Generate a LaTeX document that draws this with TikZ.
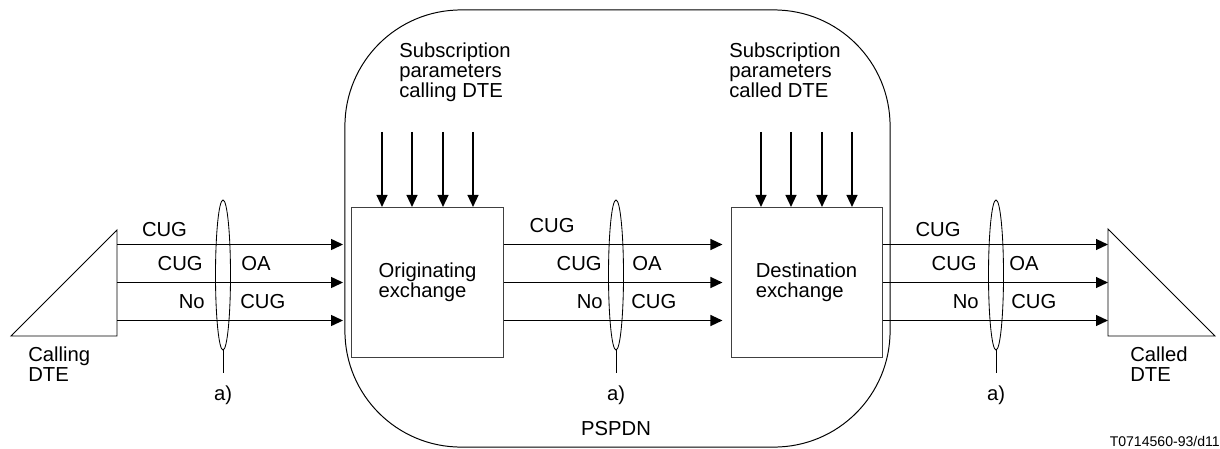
\documentclass[tikz,border=0pt]{standalone}
\usepackage{fontspec}
\setmainfont{Liberation Sans}
\usetikzlibrary{shapes.geometric}
\usetikzlibrary{calc}
\usetikzlibrary{arrows.meta}

\begin{document}
\begin{tikzpicture}[x=0.025cm, y=-0.025cm, font=\fontsize{14.4pt}{14.2pt}\selectfont]
        % Define styles for shapes
        \tikzstyle{exchange} = [draw=black!75, line width=0.7pt, minimum width=3.775cm, minimum height=3.75cm, align=left, inner sep=0pt]
        \tikzstyle{sig} = [line width=1.3pt, -{Triangle[length=0.3cm, width=0.27cm]}]
        \tikzstyle{lens} = [draw, ellipse, line width=0.6pt, minimum width=0.375cm, minimum height=3.75cm, inner sep=0pt]
        \tikzstyle{txt} = [inner sep=0pt]
        \useasboundingbox (0,0) rectangle (1220,448);

        % Network boundary
        \node[draw, line width=0.7pt, rounded corners=2.9cm, minimum width=13.625cm, minimum height=10.925cm, inner sep=0pt] (pspdn) at (617.5,228.5) {};
        \node[txt] (pspdnlabel) at (616,429) {PSPDN};

        % Exchanges
        \node[exchange] (orig) at (427.5,282.5) {Originating\\exchange};
        \node[exchange] (dest) at (806.5,282.5) {Destination\\exchange};

        % Subscription parameters
        \node[txt, align=left, anchor=north west] (subcalling) at (399,43) {Subscription\\parameters\\calling DTE};
        \node[txt, align=left, anchor=north west] (subcalled) at (729,43) {Subscription\\parameters\\called DTE};
        \foreach \dx in {-45.5,-15.5,15.5,45.5} {
            \draw[sig] ($(orig.north)+(\dx,-75)$) -- ($(orig.north)+(\dx,0)$);
            \draw[sig] ($(dest.north)+(\dx,-75)$) -- ($(dest.north)+(\dx,0)$);
        }

        % DTEs
        \coordinate (callingtop) at (117,230);
        \coordinate (callingbot) at (117,336);
        \draw[line width=0.6pt] (callingtop) -- (callingbot) -- (11,336) -- cycle;
        \node[txt, align=left, anchor=west] (callingdte) at (28,364) {Calling\\DTE};
        \coordinate (calledtop) at (1108,229);
        \coordinate (calledbot) at (1108,336);
        \draw[line width=0.6pt] (calledtop) -- (calledbot) -- (1215,336) -- cycle;
        \node[txt, align=left, anchor=west] (calleddte) at (1130,364) {Called\\DTE};

        % Draw arrows
        \foreach \dy in {-38,0,38} {
            \coordinate (lin) at ($(orig.west)+(0,\dy)$);
            \coordinate (rin) at ($(dest.west)+(0,\dy)$);
            \coordinate (rout) at ($(dest.east)+(0,\dy)$);
            \draw[sig, shorten >=0.21cm] (callingtop |- lin) -- (lin);
            \draw[sig, shorten >=0.2cm] (orig.east |- rin) -- (rin);
            \draw[sig] (rout) -- (calledtop |- rout);
        }

        % Ellipses round the lines
        \foreach \name/\x in {e1/223, e2/616, e3/996} {
            \node[lens] (\name) at (\x,275) {};
            \draw[line width=0.6pt] (\name.south) -- ++(0,23);
            \node[txt] (\name note) at (\x,395) {a)};
        }

        % Labels between the lines
        \node[txt] (l1) at (164.5,230) {CUG};
        \node[txt, anchor=east] (l2) at (203,264) {CUG};
        \node[txt, anchor=west] (l3) at (241,264) {OA};
        \node[txt, anchor=east] (l4) at (205,302) {No};
        \node[txt, anchor=west] (l5) at (240,302) {CUG};

        \node[txt] (m1) at (552,226) {CUG};
        \node[txt, anchor=east] (m2) at (602,264) {CUG};
        \node[txt, anchor=west] (m3) at (632,264) {OA};
        \node[txt, anchor=east] (m4) at (603,302) {No};
        \node[txt, anchor=west] (m5) at (631,302) {CUG};

        \node[txt] (r1) at (938,230) {CUG};
        \node[txt, anchor=east] (r2) at (977,264) {CUG};
        \node[txt, anchor=west] (r3) at (1009,264) {OA};
        \node[txt, anchor=east] (r4) at (979,302) {No};
        \node[txt, anchor=west] (r5) at (1011,302) {CUG};

        \node[txt, anchor=east, font=\fontsize{10pt}{12pt}\selectfont] (ref) at (1220,441) {T0714560-93/d11};
    \end{tikzpicture}
\end{document}
